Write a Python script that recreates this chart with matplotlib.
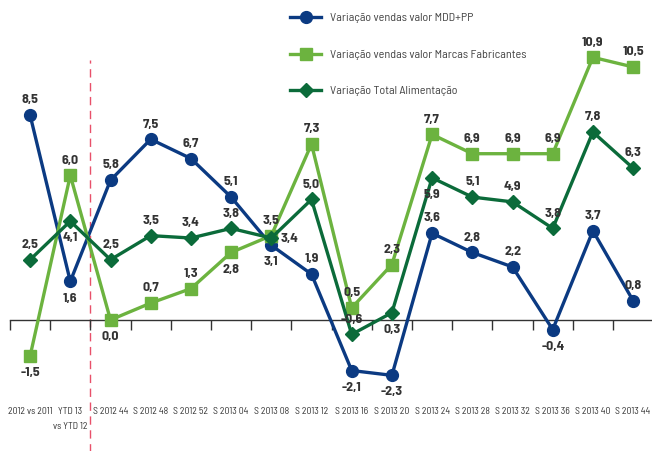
import matplotlib
matplotlib.use("Agg")
import matplotlib.pyplot as plt
from matplotlib import font_manager

# pick a condensed face close to the original one
disponiveis = {f.name for f in font_manager.fontManager.ttflist}
fonte = 'DejaVu Sans'
for nome in ['Ubuntu Condensed', 'Barlow Semi Condensed', 'Asap Condensed', 'Barlow Condensed']:
    if nome in disponiveis:
        fonte = nome
        break
plt.rcParams['font.family'] = [fonte, 'DejaVu Sans']

periodos = ['2012 vs 2011', 'YTD 13\nvs YTD 12', 'S 2012 44', 'S 2012 48', 'S 2012 52',
            'S 2013 04', 'S 2013 08', 'S 2013 12', 'S 2013 16', 'S 2013 20', 'S 2013 24',
            'S 2013 28', 'S 2013 32', 'S 2013 36', 'S 2013 40', 'S 2013 44']

mdd_pp = [8.5, 1.6, 5.8, 7.5, 6.7, 5.1, 3.1, 1.9, -2.1, -2.3, 3.6, 2.8, 2.2, -0.4, 3.7, 0.8]
marcas = [-1.5, 6.0, 0.0, 0.7, 1.3, 2.8, 3.5, 7.3, 0.5, 2.3, 7.7, 6.9, 6.9, 6.9, 10.9, 10.5]
total = [2.5, 4.1, 2.5, 3.5, 3.4, 3.8, 3.4, 5.0, -0.6, 0.3, 5.9, 5.1, 4.9, 3.8, 7.8, 6.3]

# where each value label goes: a = above, b = below, r = right
pos_mdd = 'abaaaababbaaabaa'
pos_marcas = 'babaabaaaaaaaaaa'
pos_total = 'abaaaaraabbaaaaa'

nomes = ['Variação vendas valor MDD+PP', 'Variação vendas valor Marcas Fabricantes',
         'Variação Total Alimentação']

azul = '#0b3a82'
verde_claro = '#6cb33f'
verde_escuro = '#0b6b3a'

fig = plt.figure(figsize=(6.52, 4.51), dpi=100)
ax = fig.add_axes([10 / 652, 0, 642 / 652, 1])

x = list(range(len(periodos)))

series = [
    (mdd_pp, pos_mdd, azul, 'o', 8.5),
    (marcas, pos_marcas, verde_claro, 's', 8),
    (total, pos_total, verde_escuro, 'D', 7.5),
]

linhas = []
for vals, pos, cor, mk, ms in series:
    l, = ax.plot(x, vals, color=cor, lw=2.4, marker=mk, markersize=ms,
                 markeredgecolor=cor, zorder=3)
    linhas.append(l)
    for xi, v, p in zip(x, vals, pos):
        txt = f"{v:.1f}".replace('.', ',')
        if p == 'a':
            off, ha, va = (0, 7), 'center', 'bottom'
        elif p == 'b':
            off, ha, va = (0, -8), 'center', 'top'
        else:
            off, ha, va = (7, 0), 'left', 'center'
        ax.annotate(txt, (xi, v), xytext=off, textcoords='offset points',
                    ha=ha, va=va, fontsize=10, fontweight='bold', color='#333333',
                    zorder=5)

# dashed separator
ax.plot([1.5, 1.5], [-5.6, 10.8], color='#e8506a', lw=1, dashes=(6, 4), zorder=1)

ax.set_xlim(-0.5, 15.47)
ax.set_ylim(-5.44, 13.28)

for s in ['top', 'right', 'left']:
    ax.spines[s].set_visible(False)
ax.spines['bottom'].set_position(('data', 0))
ax.spines['bottom'].set_color('#333333')
ax.spines['bottom'].set_linewidth(1)
ax.set_yticks([])

ax.set_xticks([i - 0.5 for i in range(len(periodos))])
ax.set_xticklabels([])
ax.tick_params(axis='x', which='major', direction='out', length=7, width=1, color='#333333')
ax.set_xticks(x, minor=True)
ax.set_xticklabels(periodos, minor=True, fontsize=7, color='#333333', linespacing=1.8)
ax.tick_params(axis='x', which='minor', length=0, pad=63)

ax.legend(linhas, nomes, loc='upper left', bbox_to_anchor=(290 / 652, 1 - 13 / 451),
          bbox_transform=fig.transFigure, frameon=False, fontsize=8.7,
          labelspacing=2.15, handlelength=2.6, handletextpad=0.7, borderpad=0,
          borderaxespad=0, labelcolor='#444444')

fig.savefig('out.png', dpi=100)
